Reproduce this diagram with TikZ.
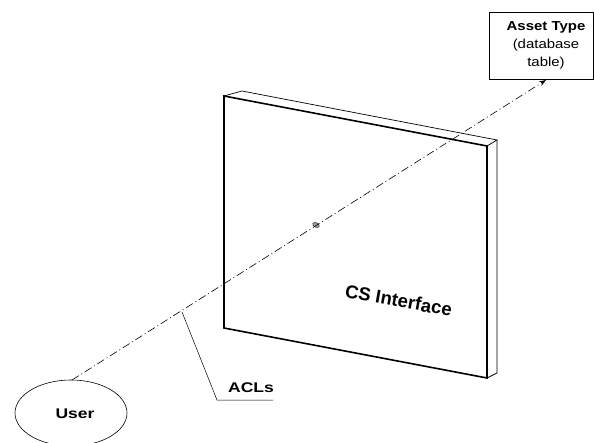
\documentclass[tikz,border=0pt]{standalone}
\usepackage{fontspec}
\setmainfont{Liberation Sans}
\usetikzlibrary{arrows.meta,shapes.geometric}
\newcommand{\wide}[2][1.2]{\scalebox{#1}[1]{#2}}
\begin{document}
\begin{tikzpicture}[x=1pt,y=-1pt,
  lbl/.style={font=\bfseries\fontsize{14}{16}\selectfont, inner sep=0pt},
  dashdot/.style={line width=0.6pt, dash pattern=on 8pt off 3pt on 1pt off 3pt},
  frontedge/.style={line width=1.6pt, line join=miter},
  backedge/.style={line width=0.7pt}]
\useasboundingbox (0,0) rectangle (594,443);
% panel
\draw[backedge] (224,96) -- (242,91) -- (497,140) -- (487,146);
\draw[backedge] (497,140) -- (497,373) -- (487,378);
\draw[frontedge] (224,96) -- (487,146) -- (487,378) -- (224,328) -- cycle;
% nodes
\node[draw, ellipse, minimum width=112pt, minimum height=66pt, line width=0.6pt, inner sep=0pt] (user) at (71,413) {};
\node[lbl, anchor=base] (usertxt) at (75,418) {\wide[1.25]{User}};
\node[draw, line width=0.8pt, minimum width=104pt, minimum height=67pt, inner sep=0pt] (asset) at (541,45.5) {};
\node[align=center, inner sep=0pt, font=\fontsize{13}{18.2}\selectfont] (assettxt) at (546,45.5) {\wide[1.15]{\textbf{Asset Type}}\\\wide[1.15]{(database}\\\wide[1.15]{table)}};
\node[draw, fill=gray!70, ellipse, minimum width=7pt, minimum height=4.5pt, inner sep=0pt, line width=0.4pt, rotate=-25] (hole) at (316,225) {};
\coordinate (ustart) at (72,380);
\coordinate (aend) at (546,80);
\draw[dashdot, -{Stealth[length=7pt,width=5pt]}] (ustart) -- (aend);
% ACLs leader
\coordinate (aclA) at (182,312);
\coordinate (aclB) at (217,400);
\coordinate (aclC) at (273,400);
\draw[line width=0.5pt] (aclA) -- (aclB) -- (aclC);
\node[lbl, anchor=base] (acls) at (251,392.5) {\wide[1.25]{ACLs}};
\node[font=\bfseries\fontsize{18.5}{20}\selectfont, rotate=-10, inner sep=0pt, anchor=base] (cs) at (397.5,307) {CS Interface};
\end{tikzpicture}
\end{document}
